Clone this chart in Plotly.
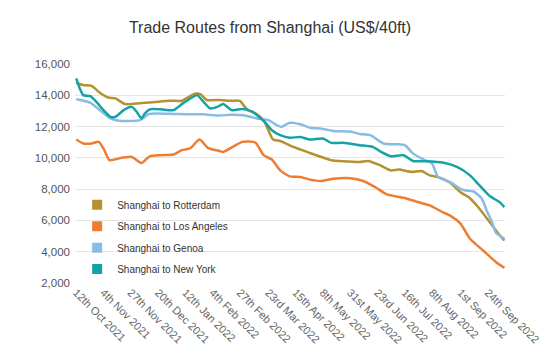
import pandas as pd
import plotly.graph_objects as go

START = "2021-10-12"

tick_dates = ["2021-10-12", "2021-11-04", "2021-11-27", "2021-12-20", "2022-01-12",
              "2022-02-04", "2022-02-27", "2022-03-23", "2022-04-15", "2022-05-08",
              "2022-05-31", "2022-06-23", "2022-07-16", "2022-08-08", "2022-09-01",
              "2022-09-24"]
tick_labels = ["12th Oct 2021", "4th Nov 2021", "27th Nov 2021", "20th Dec 2021",
               "12th Jan 2022", "4th Feb 2022", "27th Feb 2022", "23rd Mar 2022",
               "15th Apr 2022", "8th May 2022", "31st May 2022", "23rd Jun 2022",
               "16th Jul 2022", "8th Aug 2022", "1st Sep 2022", "24th Sep 2022"]

# day offsets from START and values (US$/40ft)
rotterdam_days = [0, 6, 13, 20, 27, 33, 41, 51, 65, 79, 89, 95, 100, 105, 110, 121, 130,
                  138, 141, 145, 152, 158, 162, 166, 172, 183, 197, 208, 215, 225, 239,
                  246, 256, 265, 272, 283, 291, 298, 305, 315, 324, 331, 340, 349, 356, 361]
rotterdam = [14800, 14650, 14600, 14160, 13860, 13800, 13440, 13480, 13560, 13650, 13650,
             13900, 14100, 14060, 13700, 13700, 13650, 13650, 13370, 13050, 12800, 12400,
             11770, 11170, 11080, 10700, 10310, 10020, 9850, 9780, 9730, 9800, 9530, 9200,
             9250, 9100, 9160, 8880, 8780, 8420, 7800, 7480, 6750, 5850, 5150, 4720]

los_angeles_days = [0, 6, 13, 19, 23, 28, 33, 40, 47, 55, 62, 71, 82, 89, 96, 104, 111,
                    121, 124, 140, 151, 158, 165, 172, 180, 189, 197, 206, 217, 231, 242,
                    252, 262, 276, 287, 298, 309, 315, 324, 332, 343, 354, 361]
los_angeles = [11170, 10920, 10920, 11020, 10600, 9850, 9910, 10020, 10060, 9670, 10100,
               10170, 10210, 10490, 10600, 11170, 10640, 10440, 10380, 11020, 10980, 10170,
               9890, 9200, 8820, 8780, 8610, 8520, 8670, 8700, 8520, 8130, 7660, 7450, 7200,
               6960, 6530, 6320, 5790, 4830, 4080, 3330, 2970]

genoa_days = [0, 12, 20, 29, 36, 54, 61, 68, 85, 107, 121, 130, 141, 152, 162, 169, 173,
              180, 189, 197, 206, 217, 231, 239, 248, 259, 270, 277, 284, 293, 300, 305,
              315, 326, 335, 342, 346, 350, 354, 361]
genoa = [13740, 13520, 13050, 12520, 12370, 12410, 12800, 12840, 12800, 12780, 12700,
         12760, 12730, 12520, 12410, 12090, 11980, 12240, 12150, 11920, 11880, 11720, 11680,
         11530, 11450, 10920, 10870, 10810, 10270, 9890, 9630, 8780, 8460, 7950, 7850, 7390,
         6640, 6000, 5200, 4850]

new_york_days = [0, 3, 6, 12, 17, 23, 29, 33, 40, 47, 51, 55, 58, 62, 71, 82, 90, 102, 106,
                 113, 119, 124, 131, 140, 145, 149, 154, 159, 165, 172, 180, 189, 197, 208,
                 215, 225, 239, 250, 257, 265, 276, 284, 295, 309, 321, 332, 340, 349, 357,
                 361]
new_york = [15080, 14440, 14010, 13950, 13580, 13050, 12620, 12620, 13050, 13260, 12940,
            12520, 12840, 13100, 13100, 13050, 13480, 14010, 13700, 13160, 13260, 13440,
            13050, 13120, 13050, 12940, 12620, 12300, 11770, 11450, 11280, 11340, 11170,
            11240, 10960, 10960, 10810, 10700, 10380, 10100, 10170, 9800, 9780, 9700, 9420,
            8880, 8240, 7540, 7170, 6850]

series = [
    ("Shanghai to Rotterdam", rotterdam_days, rotterdam, "#b5912f"),
    ("Shanghai to Los Angeles", los_angeles_days, los_angeles, "#ee7d32"),
    ("Shanghai to Genoa", genoa_days, genoa, "#88bce4"),
    ("Shanghai to New York", new_york_days, new_york, "#14a3a5"),
]

start = pd.Timestamp(START)

fig = go.Figure()
for name, days, vals, color in series:
    x = [start + pd.Timedelta(days=d) for d in days]
    fig.add_trace(go.Scatter(x=x, y=vals, mode="lines", name=name, legendgroup=name,
                             showlegend=False,
                             line=dict(color=color, width=2.5, shape="spline", smoothing=0.6)))
for name, days, vals, color in series:
    fig.add_trace(go.Scatter(x=[None], y=[None], mode="markers", name=name, legendgroup=name,
                             marker=dict(symbol="square", size=10, color=color)))

fig.update_layout(
    width=560, height=352,
    margin=dict(l=75, r=55, t=64, b=69, autoexpand=False),
    paper_bgcolor="white", plot_bgcolor="white",
    font=dict(family="Liberation Sans, Arial, sans-serif", color="#333333"),
    title=dict(text="Trade Routes from Shanghai (US$/40ft)", x=270 / 560, xref="container",
               xanchor="center", y=1 - 27 / 352, yref="container", yanchor="middle",
               font=dict(size=16, color="#333333")),
    legend=dict(x=0.005, y=0.423, xanchor="left", yanchor="top", bgcolor="rgba(0,0,0,0)",
                font=dict(size=10, color="#333333"), traceorder="grouped",
                tracegroupgap=2.4),
    showlegend=True,
)
fig.update_xaxes(
    type="date", automargin=False,
    range=[start - pd.Timedelta(days=1), start + pd.Timedelta(days=361.5)],
    tickvals=[pd.Timestamp(d) for d in tick_dates], ticktext=tick_labels,
    tickangle=45, tickfont=dict(size=11, color="#666666"),
    showgrid=False, zeroline=False, showline=False, ticks="",
)
fig.update_yaxes(
    range=[2000, 16000], dtick=2000, tickformat=",d", automargin=False,
    tickfont=dict(size=11.5, color="#555555"),
    showgrid=True, gridcolor="#e6e6e6", gridwidth=1, zeroline=False, showline=False,
    ticklabelstandoff=4,
)

fig.write_html("out.html")
